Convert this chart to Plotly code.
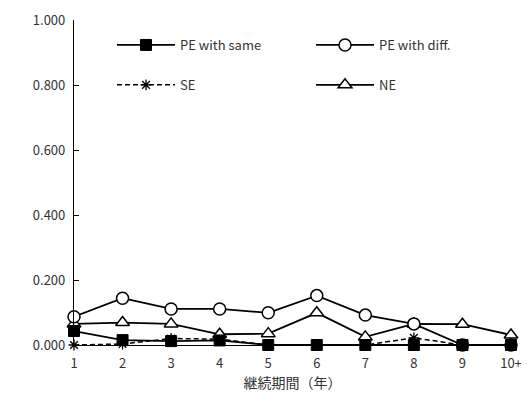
import plotly.graph_objects as go

categories = ["1", "2", "3", "4", "5", "6", "7", "8", "9", "10+"]
pe_same = [0.043, 0.015, 0.012, 0.014, 0.0, 0.0, 0.0, 0.0, 0.0, 0.0]
pe_diff = [0.087, 0.144, 0.111, 0.111, 0.099, 0.152, 0.092, 0.065, 0.0, 0.0]
se = [0.0, 0.003, 0.020, 0.018, 0.0, 0.0, 0.0, 0.022, 0.0, 0.0]
ne = [0.065, 0.069, 0.065, 0.033, 0.035, 0.099, 0.025, 0.065, 0.064, 0.031]
y_ticks = [0, 0.2, 0.4, 0.6, 0.8, 1.0]

FONT = "Noto Sans CJK JP, Liberation Sans, sans-serif"
xs = list(range(len(categories)))

fig = go.Figure()
fig.add_trace(go.Scatter(x=xs, y=se, name="SE", mode="lines+markers",
    line=dict(color="black", width=1.5, dash="5px,3px"),
    marker=dict(symbol="asterisk-open", size=9, color="black", line=dict(color="black", width=1.3)),
    legend="legend", legendgroup="b", legendrank=2, cliponaxis=False))
fig.add_trace(go.Scatter(x=xs, y=ne, name="NE", mode="lines+markers",
    line=dict(color="black", width=1.8),
    marker=dict(symbol="triangle-up", size=12, color="white", line=dict(color="black", width=1.5)),
    legend="legend2", legendgroup="d", legendrank=2, cliponaxis=False))
fig.add_trace(go.Scatter(x=xs, y=pe_diff, name="PE with diff.", mode="lines+markers",
    line=dict(color="black", width=1.8),
    marker=dict(symbol="circle", size=12, color="white", line=dict(color="black", width=1.5)),
    legend="legend2", legendgroup="c", legendrank=1, cliponaxis=False))
fig.add_trace(go.Scatter(x=xs, y=pe_same, name="PE with same", mode="lines+markers",
    line=dict(color="black", width=1.8),
    marker=dict(symbol="square", size=11, color="black", line=dict(color="black", width=1)),
    legend="legend", legendgroup="a", legendrank=1, cliponaxis=False))

# page has an 8px body margin, so the figure is drawn 8px smaller and shifted
legend_common = dict(font=dict(family=FONT, size=13, color="#333"), bgcolor="rgba(0,0,0,0)",
                     itemwidth=58, tracegroupgap=20, orientation="v",
                     xanchor="left", yanchor="top")
fig.update_layout(
    width=521, height=391,
    margin=dict(l=66, r=18, t=12, b=54, autoexpand=False),
    paper_bgcolor="white", plot_bgcolor="white",
    font=dict(family=FONT, size=13, color="#333"),
    legend=dict(x=(112 - 74) / 437, y=(345 - 30) / 325, **legend_common),
    legend2=dict(x=(311 - 74) / 437, y=(345 - 30) / 325, **legend_common),
    xaxis=dict(range=[0, 9], tickvals=xs, ticktext=categories, showgrid=False,
               showline=True, linecolor="black", linewidth=1.2, ticks="", zeroline=False,
               ticklabelstandoff=6,
               title=dict(text="継続期間（年）", font=dict(family=FONT, size=14, color="#333"), standoff=4),
               tickfont=dict(family=FONT, size=13, color="#333")),
    yaxis=dict(range=[0, 1], tickvals=y_ticks, tickformat=".3f", showgrid=False,
               showline=True, linecolor="black", linewidth=1.2, ticks="inside", ticklen=5,
               tickcolor="black", zeroline=False, ticklabelstandoff=5,
               tickfont=dict(family=FONT, size=13, color="#333")),
)

fig.write_html("out.html")
